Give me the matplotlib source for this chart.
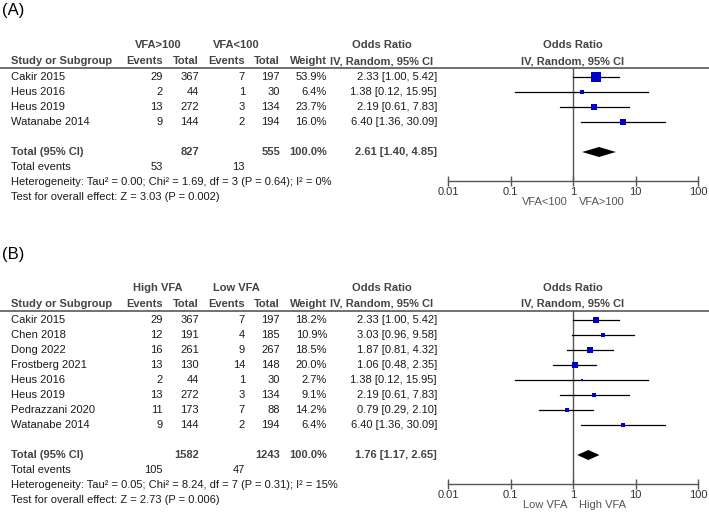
import matplotlib
matplotlib.use('Agg')
import matplotlib.pyplot as plt
from matplotlib.ticker import NullLocator

plt.rcParams['font.family'] = ['Liberation Sans', 'DejaVu Sans']

W, H = 709, 514

# ---- panel A data ----
a_studies = ['Cakir 2015', 'Heus 2016', 'Heus 2019', 'Watanabe 2014']
a_ev1 = [29, 2, 13, 9]
a_tot1 = [367, 44, 272, 144]
a_ev2 = [7, 1, 3, 2]
a_tot2 = [197, 30, 134, 194]
a_weight = [53.9, 6.4, 23.7, 16.0]
a_or = [2.33, 1.38, 2.19, 6.40]
a_lo = [1.00, 0.12, 0.61, 1.36]
a_hi = [5.42, 15.95, 7.83, 30.09]
a_total = (2.61, 1.40, 4.85)
a_sum_tot = (827, 555)
a_sum_ev = (53, 13)
a_het = 'Heterogeneity: Tau\u00b2 = 0.00; Chi\u00b2 = 1.69, df = 3 (P = 0.64); I\u00b2 = 0%'
a_test = 'Test for overall effect: Z = 3.03 (P = 0.002)'
a_groups = ('VFA>100', 'VFA<100')
a_favours = ('VFA<100', 'VFA>100')

# ---- panel B data ----
b_studies = ['Cakir 2015', 'Chen 2018', 'Dong 2022', 'Frostberg 2021', 'Heus 2016',
             'Heus 2019', 'Pedrazzani 2020', 'Watanabe 2014']
b_ev1 = [29, 12, 16, 13, 2, 13, 11, 9]
b_tot1 = [367, 191, 261, 130, 44, 272, 173, 144]
b_ev2 = [7, 4, 9, 14, 1, 3, 7, 2]
b_tot2 = [197, 185, 267, 148, 30, 134, 88, 194]
b_weight = [18.2, 10.9, 18.5, 20.0, 2.7, 9.1, 14.2, 6.4]
b_or = [2.33, 3.03, 1.87, 1.06, 1.38, 2.19, 0.79, 6.40]
b_lo = [1.00, 0.96, 0.81, 0.48, 0.12, 0.61, 0.29, 1.36]
b_hi = [5.42, 9.58, 4.32, 2.35, 15.95, 7.83, 2.10, 30.09]
b_total = (1.76, 1.17, 2.65)
b_sum_tot = (1582, 1243)
b_sum_ev = (105, 47)
b_het = 'Heterogeneity: Tau\u00b2 = 0.05; Chi\u00b2 = 8.24, df = 7 (P = 0.31); I\u00b2 = 15%'
b_test = 'Test for overall effect: Z = 2.73 (P = 0.006)'
b_groups = ('High VFA', 'Low VFA')
b_favours = ('Low VFA', 'High VFA')

ticks = [0.01, 0.1, 1, 10, 100]
tick_labels = ['0.01', '0.1', '1', '10', '100']

FS = 8
TXT = '#1a1a1a'
HDR = '#444444'
LINE = '#555555'
BLUE = '#0000c8'

# column right edges (px)
C_NAME = 11
C_EV1, C_TOT1, C_EV2, C_TOT2, C_W, C_OR = 163, 199, 245, 280, 327, 437
FX0, FX1 = 448, 698


def fmt_or(e, l, h):
    return f'{e:.2f} [{l:.2f}, {h:.2f}]'


def draw_panel(fig, bg, line_y, tag, groups, favours, studies, ev1, tot1, ev2, tot2,
               weight, est, lo, hi, total, sum_tot, sum_ev, het, test):
    bg.text(2, line_y - 57, tag, fontsize=12, color='black', va='center', ha='left')

    # headers
    h1 = line_y - 23
    h2 = line_y - 7
    hk = dict(fontsize=FS, color=HDR, fontweight='bold', va='center')
    bg.text((C_EV1 + C_TOT1) / 2 - 23, h1, groups[0], ha='center', **hk)
    bg.text((C_EV2 + C_TOT2) / 2 - 26, h1, groups[1], ha='center', **hk)
    bg.text(382, h1, 'Odds Ratio', ha='center', **hk)
    bg.text(573, h1, 'Odds Ratio', ha='center', **hk)
    bg.text(C_NAME, h2, 'Study or Subgroup', ha='left', **hk)
    bg.text(C_EV1, h2, 'Events', ha='right', **hk)
    bg.text(C_TOT1, h2, 'Total', ha='right', **hk)
    bg.text(C_EV2, h2, 'Events', ha='right', **hk)
    bg.text(C_TOT2, h2, 'Total', ha='right', **hk)
    bg.text(C_W, h2, 'Weight', ha='right', **hk)
    bg.text(382, h2, 'IV, Random, 95% CI', ha='center', **hk)
    bg.text(573, h2, 'IV, Random, 95% CI', ha='center', **hk)
    bg.plot([0, W], [line_y, line_y], color='#666666', lw=1.3, solid_capstyle='butt')

    rows = [line_y + 9 + 15 * i for i in range(len(studies))]
    tk = dict(fontsize=FS, color=TXT, va='center')
    for i, y in enumerate(rows):
        bg.text(C_NAME, y, studies[i], ha='left', **tk)
        bg.text(C_EV1, y, str(ev1[i]), ha='right', **tk)
        bg.text(C_TOT1, y, str(tot1[i]), ha='right', **tk)
        bg.text(C_EV2, y, str(ev2[i]), ha='right', **tk)
        bg.text(C_TOT2, y, str(tot2[i]), ha='right', **tk)
        bg.text(C_W, y, f'{weight[i]:.1f}%', ha='right', **tk)
        bg.text(C_OR, y, fmt_or(est[i], lo[i], hi[i]), ha='right', **tk)

    ty = rows[-1] + 30
    bk = dict(fontsize=FS, color=HDR, fontweight='bold', va='center')
    bg.text(C_NAME, ty, 'Total (95% CI)', ha='left', **bk)
    bg.text(C_TOT1, ty, str(sum_tot[0]), ha='right', **bk)
    bg.text(C_TOT2, ty, str(sum_tot[1]), ha='right', **bk)
    bg.text(C_W, ty, '100.0%', ha='right', **bk)
    bg.text(C_OR, ty, fmt_or(*total), ha='right', **bk)
    bg.text(C_NAME, ty + 15, 'Total events', ha='left', **tk)
    bg.text(C_EV1, ty + 15, str(sum_ev[0]), ha='right', **tk)
    bg.text(C_EV2, ty + 15, str(sum_ev[1]), ha='right', **tk)
    bg.text(C_NAME, ty + 30, het, ha='left', **tk)
    bg.text(C_NAME, ty + 45, test, ha='left', **tk)

    # forest plot
    axis_y = ty + 29
    ax = fig.add_axes([FX0 / W, 1 - axis_y / H, (FX1 - FX0) / W, (axis_y - line_y) / H])
    ax.set_xscale('log')
    ax.set_xlim(0.01, 100)
    ax.set_ylim(axis_y, line_y)
    ax.patch.set_alpha(0)
    for s in ['top', 'right', 'left']:
        ax.spines[s].set_visible(False)
    ax.spines['bottom'].set_color(LINE)
    ax.spines['bottom'].set_linewidth(1)
    ax.set_xticks(ticks)
    ax.set_xticklabels(tick_labels)
    ax.xaxis.set_minor_locator(NullLocator())
    ax.set_yticks([])
    ax.tick_params(axis='x', direction='inout', length=7, width=1, color=LINE,
                   labelsize=FS, labelcolor='#333333', pad=1)
    ax.axvline(1, color=LINE, lw=1)

    for i, y in enumerate(rows):
        ax.plot([lo[i], hi[i]], [y, y], color='black', lw=0.9, zorder=2)
        side = 1.27 * weight[i] ** 0.5
        ax.plot(est[i], y, 's', ms=side * 0.72, color=BLUE, mew=0, zorder=3)

    e, l, h = total
    ax.fill([l, e, h, e], [ty, ty - 5, ty, ty + 5], color='black', lw=0, zorder=3)

    ax.annotate(favours[0], xy=(1, 0), xycoords=('data', 'axes fraction'),
                xytext=(-4, -15), textcoords='offset points', ha='right', va='center',
                fontsize=FS, color='#555555')
    ax.annotate(favours[1], xy=(1, 0), xycoords=('data', 'axes fraction'),
                xytext=(4, -15), textcoords='offset points', ha='left', va='center',
                fontsize=FS, color='#555555')


fig = plt.figure(figsize=(W / 100, H / 100), dpi=100)
bg = fig.add_axes([0, 0, 1, 1])
bg.set_xlim(0, W)
bg.set_ylim(H, 0)
bg.axis('off')

draw_panel(fig, bg, 68, '(A)', a_groups, a_favours, a_studies, a_ev1, a_tot1, a_ev2,
           a_tot2, a_weight, a_or, a_lo, a_hi, a_total, a_sum_tot, a_sum_ev, a_het, a_test)
draw_panel(fig, bg, 311, '(B)', b_groups, b_favours, b_studies, b_ev1, b_tot1, b_ev2,
           b_tot2, b_weight, b_or, b_lo, b_hi, b_total, b_sum_tot, b_sum_ev, b_het, b_test)

fig.savefig('out.png', dpi=100)
